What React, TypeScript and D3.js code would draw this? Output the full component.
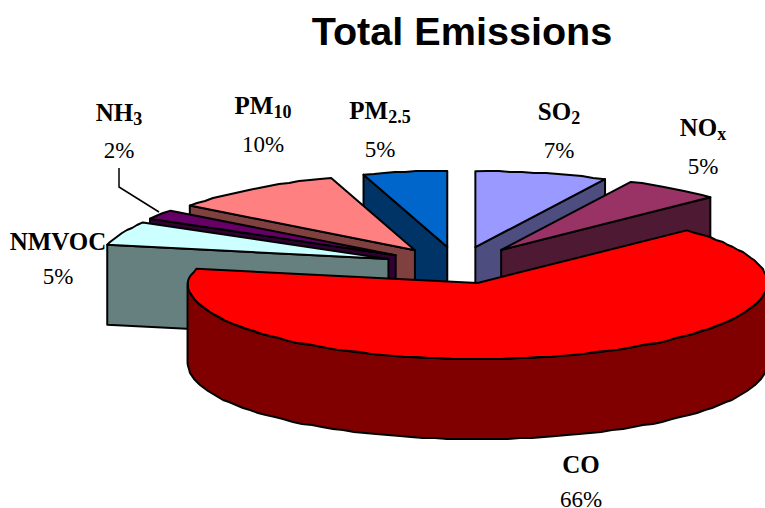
import React from "react";
import * as d3 from "d3";

// Share of total emissions by pollutant, clockwise from twelve o'clock.
const pollutants = ["SO", "NO", "CO", "NMVOC", "NH", "PM", "PM"];
const subscripts = ["2", "x", "", "", "3", "10", "2.5"];
const shares = [7, 5, 66, 5, 2, 10, 5];
const topColors = ["#9999FF", "#993366", "#FF0000", "#CCFFFF", "#660066", "#FF8080", "#0066CC"];
const sideColors = ["#4D4D80", "#4D1933", "#800000", "#668080", "#330033", "#804040", "#003366"];

const WIDTH = 765;
const HEIGHT = 508;
const CENTER = { x: 459, y: 265.3 };
const RX = 290;
const RY = 76;
const DEPTH = 80;
const RIM_STEP = (2 * Math.PI) / 150;

// Label anchors in the same order as the slices: centre x, name baseline, percent baseline.
const labelSpots: [number, number, number][] = [
  [559, 120, 158],
  [703, 136, 174],
  [581, 473, 507],
  [58, 250, 284],
  [119, 121, 158],
  [263, 114, 152],
  [380, 119, 157],
];

// Perspective: the upper right quadrant is stretched sideways, the far left is narrower.
const warpAngle = (a: number) =>
  a < Math.PI / 2 ? a + 0.052 * Math.pow(Math.sin(2 * a), 3) : a;
const radiusX = (a: number) =>
  Math.sin(a) > 0 ? RX : RX - 20 * Math.max(0, Math.cos(a));

type Pt = [number, number];
const line = d3.line<Pt>().curve(d3.curveLinear);

const rimPoint = (apex: Pt, a: number): Pt => {
  const w = warpAngle(a);
  return [apex[0] + radiusX(w) * Math.sin(w), apex[1] - RY * Math.cos(w)];
};

function rim(apex: Pt, start: number, end: number): Pt[] {
  const steps = Math.max(1, Math.round((end - start) / RIM_STEP));
  return d3.range(steps + 1).map((i) => {
    const p = rimPoint(apex, start + ((end - start) * i) / steps);
    return i === 0 || i === steps ? p : ([Math.round(p[0]), Math.round(p[1])] as Pt);
  });
}

const drop = (pts: Pt[]): Pt[] => pts.map(([x, y]) => [x, y + DEPTH] as Pt);

const arcs = d3
  .pie<number>()
  .sort(null)
  .value((d) => d)(shares);

// Painter's order: far slices first, the large front slice last.
const paintOrder = [6, 0, 5, 1, 4, 3, 2];

function Slice({ index }: { index: number }) {
  const arc = arcs[index];
  const mid = (arc.startAngle + arc.endAngle) / 2;
  // The slice pulled toward the viewer moves less sideways on screen.
  const pullX = Math.cos(mid) < 0 ? 60 : 75;
  const apex: Pt = [
    CENTER.x + pullX * Math.sin(mid),
    CENTER.y - 18.6 * Math.cos(mid),
  ];
  const outer = rim(apex, arc.startAngle, arc.endAngle);
  const top = line([apex, ...outer])! + "Z";

  let side: string;
  if (arc.endAngle - arc.startAngle > Math.PI) {
    // The large slice shows its curved outer wall, between its left and right silhouettes.
    const band = rim(apex, Math.max(arc.startAngle, Math.PI / 2), Math.min(arc.endAngle, 1.5 * Math.PI));
    side = line([...band, ...drop(band).reverse()])! + "Z";
  } else {
    // Small slices show the flat cut face nearest the viewer.
    const cut = Math.sin(mid) < 0 ? arc.startAngle : arc.endAngle;
    const edge: Pt[] = [apex, rimPoint(apex, cut)];
    side = line([...edge, ...drop(edge).reverse()])! + "Z";
  }

  return (
    <g stroke="#000" strokeWidth={2} strokeLinejoin="round">
      <path d={side} fill={sideColors[index]} />
      <path d={top} fill={topColors[index]} />
    </g>
  );
}

export default function App() {
  const serif = "'Liberation Serif', serif";
  return (
    <svg
      width={WIDTH}
      height={HEIGHT}
      viewBox={`0 0 ${WIDTH} ${HEIGHT}`}
      style={{ position: "absolute", left: 0, top: 0, background: "#fff" }}
    >
      <text
        x={462}
        y={45}
        textAnchor="middle"
        fontFamily="'Liberation Sans', sans-serif"
        fontWeight="bold"
        fontSize={39.6}
        fill="#000"
      >
        Total Emissions
      </text>

      {paintOrder.map((i) => (
        <Slice key={i} index={i} />
      ))}

      {/* Leader line for the thin NH3 slice */}
      <path
        d={line([
          [119, 168],
          [119, 187],
          [159, 212],
        ] as Pt[])!}
        fill="none"
        stroke="#000"
        strokeWidth={1.5}
      />

      {pollutants.map((name, i) => {
        const [x, nameY, pctY] = labelSpots[i];
        return (
          <g key={i} fontFamily={serif} fill="#000" textAnchor="middle">
            <text x={x} y={nameY} fontSize={25} fontWeight="bold">
              {name}
              {subscripts[i] && (
                <tspan fontSize={18} dy={4}>
                  {subscripts[i]}
                </tspan>
              )}
            </text>
            <text x={x} y={pctY} fontSize={23}>
              {shares[i]}%
            </text>
          </g>
        );
      })}
    </svg>
  );
}
